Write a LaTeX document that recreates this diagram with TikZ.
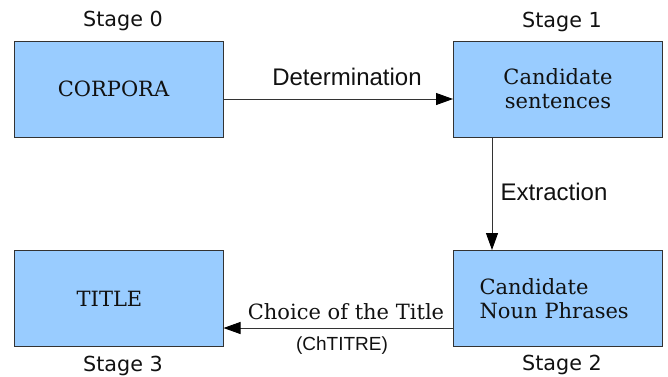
\documentclass[tikz,border=0pt]{standalone}
\usepackage{fontspec}
\setmainfont{DejaVu Serif}
\newfontfamily\stagefont{DejaVu Sans}
\newfontfamily\labfont{Liberation Sans}
\usetikzlibrary{arrows.meta}
\definecolor{boxfill}{HTML}{99CCFF}
\definecolor{boxline}{HTML}{333333}
\definecolor{txt}{HTML}{111111}
\begin{document}
\begin{tikzpicture}[x=1pt,y=-1pt,
  stagebox/.style={draw=boxline,line width=1pt,fill=boxfill,minimum width=209pt,minimum height=96pt,inner sep=0pt,text=txt,align=center,font=\fontsize{21}{24}\selectfont},
  stagelab/.style={text=txt,font=\stagefont\fontsize{20.7}{24}\selectfont,inner sep=0pt},
  arrlab/.style={text=txt,font=\labfont\fontsize{24}{26}\selectfont,inner sep=0pt},
  conn/.style={draw=boxline,line width=1pt,-{Triangle[length=17pt,width=12pt,color=black]}}]
\useasboundingbox (0,0) rectangle (668,376);
\node[stagebox] (c) at (118.5,89) {CORPORA\hspace*{10pt}};
\node[stagebox] (s) at (558,89) {Candidate\\sentences};
\node[stagebox] (t) at (118.5,298.5) {TITLE\hspace*{18pt}};
\node[stagebox,align=left,text width=157pt,inner xsep=26pt] (n) at (558,298.5) {Candidate\\Noun Phrases};
\node[stagelab] (l0) at (123,21) {Stage 0};
\node[stagelab] (l1) at (562,22) {Stage 1};
\node[stagelab] (l3) at (123,366) {Stage 3};
\node[stagelab] (l2) at (562,365) {Stage 2};
\draw[conn] ([yshift=-10pt]c.east) -- ([yshift=-10pt]c.east -| s.west);
\draw[conn] ([xshift=-66pt]s.south) -- ([xshift=-66pt]n.north);
\draw[conn] ([yshift=-29.5pt]n.west) -- ([yshift=-29.5pt]n.west -| t.east);
\node[arrlab] (dl) at (347,77) {Determination};
\node[arrlab] (el) at (554,192) {Extraction};
\node[text=txt,font=\fontsize{21}{24}\selectfont,inner sep=0pt] (cl) at (346,312) {Choice of the Title};
\node[text=txt,font=\labfont\fontsize{19}{22}\selectfont,inner sep=0pt] (ch) at (342,346) {(ChTITRE)};
\end{tikzpicture}
\end{document}
